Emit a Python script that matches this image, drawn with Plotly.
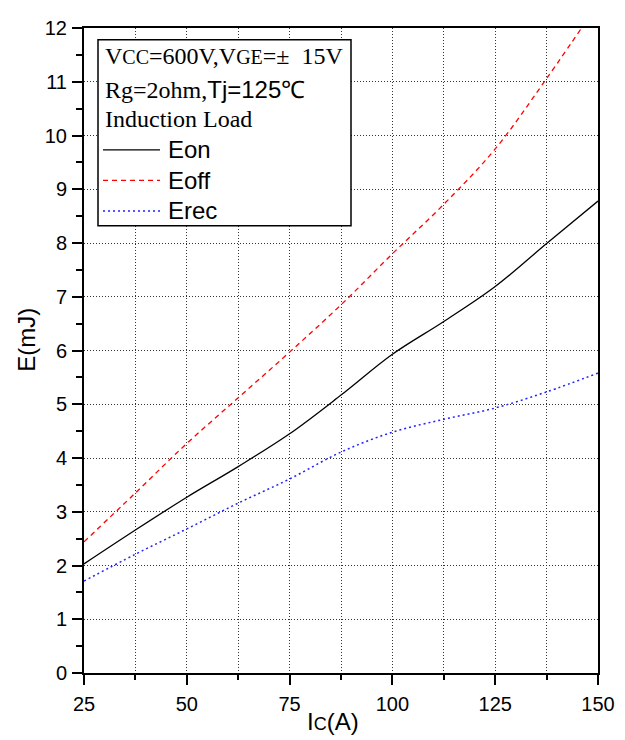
import plotly.graph_objects as go

# Data
ic = [25, 37.5, 50, 62.5, 75, 87.5, 100, 112.5, 125, 137.5, 150]
e_on = [2.03, 2.66, 3.27, 3.84, 4.45, 5.17, 5.93, 6.54, 7.19, 7.99, 8.78]
e_off = [2.44, 3.35, 4.27, 5.12, 5.97, 6.85, 7.80, 8.72, 9.75, 11.06, 12.45]
e_rec = [1.71, 2.21, 2.68, 3.16, 3.61, 4.11, 4.48, 4.72, 4.93, 5.23, 5.58]

x_ticks = [25, 50, 75, 100, 125, 150]
y_ticks = list(range(0, 13))

# page offset (browser body margin)
OFF = 8
PAGE_W, PAGE_H = 625, 740
PL, PR, PT, PB = 84, 598, 17, 673  # plot area in page pixels
W, H = PAGE_W - OFF, PAGE_H - OFF
L, T = PL - OFF, PT - OFF
R, B = PAGE_W - PR, PAGE_H - PB
PW, PH = PR - PL, PB - PT


def px(x):
    return (x - PL) / PW


def py(y):
    return (PB - y) / PH


fig = go.Figure()
fig.add_trace(go.Scatter(x=ic, y=e_on, mode="lines", name="Eon",
                         line=dict(color="black", width=1.3, shape="spline", smoothing=1.0)))
fig.add_trace(go.Scatter(x=ic, y=e_off, mode="lines", name="Eoff",
                         line=dict(color="#ff0000", width=1.3, dash="5px,4px", shape="spline", smoothing=1.0)))
fig.add_trace(go.Scatter(x=ic, y=e_rec, mode="lines", name="Erec",
                         line=dict(color="#2222ff", width=1.5, dash="2px,3px", shape="spline", smoothing=1.0)))

GRID = "#333333"
GDASH = "1px,2px"
axis_common = dict(
    showline=True, linecolor="black", linewidth=2, mirror=True,
    ticks="outside", ticklen=10, tickwidth=2, tickcolor="black",
    gridcolor=GRID, griddash=GDASH, gridwidth=1,
    zeroline=False,
    tickfont=dict(family="Liberation Sans, Arial", size=20, color="black"),
)

fig.update_xaxes(
    range=[25, 150], tickvals=x_ticks, showgrid=True, ticklabelstandoff=2,
    minor=dict(dtick=12.5, tick0=25, ticklen=5, tickwidth=1.5, tickcolor="black",
               showgrid=True, gridcolor=GRID, griddash=GDASH, gridwidth=1, ticks="outside"),
    **axis_common,
)
fig.update_yaxes(
    range=[0, 12], tickvals=y_ticks, showgrid=True, ticklabelstandoff=1,
    minor=dict(dtick=0.5, tick0=0, ticklen=6, tickwidth=1.5, tickcolor="black",
               showgrid=False, ticks="outside"),
    **axis_common,
)

serif = "Liberation Serif, Times New Roman"
sans = "Liberation Sans, Arial"

annotations = [
    dict(x=px(103), y=py(45), text="V<span style='font-size:20px'>CC</span>=600V,V<span style='font-size:20px'>GE</span>=±  15V",
         font=dict(family=serif, size=24, color="black")),
    dict(x=px(103), y=py(80), text="Rg=2ohm,<span style='font-family:Liberation Sans, Arial'>Tj=125℃</span>",
         font=dict(family=serif, size=24, color="black")),
    dict(x=px(103), y=py(110), text="Induction Load",
         font=dict(family=serif, size=24, color="black")),
    dict(x=px(166), y=py(141), text="Eon", font=dict(family=sans, size=24, color="black")),
    dict(x=px(166), y=py(172), text="Eoff", font=dict(family=sans, size=24, color="black")),
    dict(x=px(166), y=py(203), text="Erec", font=dict(family=sans, size=24, color="black")),
    dict(x=px(333), y=py(722), text="I<span style='font-size:18px'>C</span>(A)",
         xanchor="center", font=dict(family=sans, size=24, color="black")),
]
for a in annotations:
    a.setdefault("xanchor", "left")
    a.update(xref="paper", yref="paper", yanchor="middle", showarrow=False)

annotations.append(dict(x=px(27), y=py(334), xref="paper", yref="paper", text="E(mJ)", textangle=-90,
                        showarrow=False, xanchor="center", yanchor="middle",
                        font=dict(family=sans, size=24, color="black")))

shapes = [
    dict(type="rect", xref="paper", yref="paper", x0=px(98), x1=px(351), y0=py(29), y1=py(218),
         line=dict(color="black", width=1.5), fillcolor="white", layer="above"),
    dict(type="line", xref="paper", yref="paper", x0=px(103), x1=px(160), y0=py(141), y1=py(141),
         line=dict(color="black", width=1.3)),
    dict(type="line", xref="paper", yref="paper", x0=px(103), x1=px(160), y0=py(172), y1=py(172),
         line=dict(color="#ff0000", width=1.3, dash="5px,4px")),
    dict(type="line", xref="paper", yref="paper", x0=px(103), x1=px(160), y0=py(203), y1=py(203),
         line=dict(color="#2222ff", width=1.5, dash="2px,3px")),
]

fig.update_layout(
    width=W, height=H,
    margin=dict(l=L, r=R, t=T, b=B, pad=0),
    paper_bgcolor="white", plot_bgcolor="white",
    showlegend=False,
    annotations=annotations,
    shapes=shapes,
)

fig.write_html("out.html")
